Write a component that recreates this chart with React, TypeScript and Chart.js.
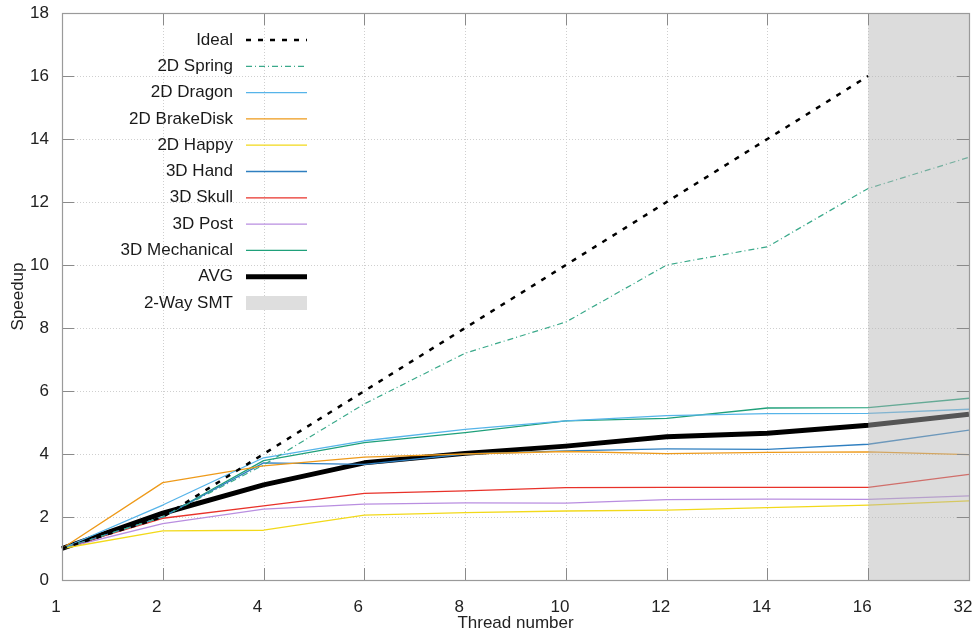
import React, { useEffect, useRef } from "react";
import { Chart, registerables } from "chart.js";

Chart.register(...registerables);

const threads = ["1", "2", "4", "6", "8", "10", "12", "14", "16", "32"];
const ideal = [1, 2, 4, 6, 8, 10, 12, 14, 16, null];
const spring2d = [1, 2.0, 3.65, 5.59, 7.2, 8.19, 10.0, 10.58, 12.43, 13.42];
const dragon2d = [1, 2.38, 3.88, 4.42, 4.78, 5.05, 5.22, 5.28, 5.29, 5.42];
const brakeDisk2d = [1, 3.09, 3.62, 3.9, 4.0, 4.08, 4.01, 4.05, 4.07, 3.98];
const happy2d = [1, 1.56, 1.58, 2.06, 2.14, 2.19, 2.22, 2.3, 2.38, 2.51];
const hand3d = [1, 2.0, 3.72, 3.67, 4.0, 4.1, 4.16, 4.15, 4.31, 4.76];
const skull3d = [1, 1.96, 2.35, 2.75, 2.83, 2.93, 2.94, 2.94, 2.94, 3.35];
const post3d = [1, 1.79, 2.25, 2.41, 2.45, 2.44, 2.55, 2.57, 2.56, 2.67];
const mechanical3d = [1, 2.0, 3.79, 4.36, 4.68, 5.05, 5.13, 5.46, 5.47, 5.77];
const avg = [1, 2.12, 3.02, 3.72, 4.02, 4.25, 4.55, 4.66, 4.91, 5.26];
const smtStart = "16";

const FONT = "'Liberation Sans', Arial, Helvetica, sans-serif";

type Series = {
  label: string;
  data: (number | null)[];
  color: string;
  width: number;
  dash: number[];
};

const series: Series[] = [
  { label: "Ideal", data: ideal, color: "#000000", width: 2.5, dash: [5, 7] },
  { label: "2D Spring", data: spring2d, color: "#3aa98a", width: 1.2, dash: [6, 3, 1, 3] },
  { label: "2D Dragon", data: dragon2d, color: "#56b4e9", width: 1.3, dash: [] },
  { label: "2D BrakeDisk", data: brakeDisk2d, color: "#ee9a1a", width: 1.3, dash: [] },
  { label: "2D Happy", data: happy2d, color: "#f2d91a", width: 1.3, dash: [] },
  { label: "3D Hand", data: hand3d, color: "#2f7fc0", width: 1.3, dash: [] },
  { label: "3D Skull", data: skull3d, color: "#e8322a", width: 1.3, dash: [] },
  { label: "3D Post", data: post3d, color: "#b98ee0", width: 1.3, dash: [] },
  { label: "3D Mechanical", data: mechanical3d, color: "#1fa07a", width: 1.3, dash: [] },
  { label: "AVG", data: avg, color: "#000000", width: 5, dash: [] },
];

const frameAndLegend = {
  id: "frameAndLegend",
  beforeDatasetsDraw(chart: any) {
    const { ctx, chartArea } = chart;
    const xs = chart.scales.x;
    const ys = chart.scales.y;
    ctx.save();
    ctx.strokeStyle = "#cfcfcf";
    ctx.lineWidth = 1;
    ctx.setLineDash([1, 2]);
    ctx.beginPath();
    xs.ticks.forEach((_t: any, i: number) => {
      if (i === 0 || i === xs.ticks.length - 1) return;
      const px = Math.round(xs.getPixelForTick(i)) + 0.5;
      ctx.moveTo(px, chartArea.top);
      ctx.lineTo(px, chartArea.bottom);
    });
    ys.ticks.forEach((_t: any, i: number) => {
      if (i === 0 || i === ys.ticks.length - 1) return;
      const py = Math.round(ys.getPixelForTick(i)) + 0.5;
      ctx.moveTo(chartArea.left, py);
      ctx.lineTo(chartArea.right, py);
    });
    ctx.stroke();
    ctx.restore();
  },
  afterDatasetsDraw(chart: any) {
    const { ctx, chartArea } = chart;
    const xs = chart.scales.x;
    const x0 = xs.getPixelForValue(threads.indexOf(smtStart));
    ctx.save();
    ctx.fillStyle = "rgba(181,181,181,0.47)";
    ctx.fillRect(x0, chartArea.top, chartArea.right - x0, chartArea.bottom - chartArea.top);
    ctx.restore();
  },
  afterDraw(chart: any) {
    const { ctx, chartArea } = chart;
    const xs = chart.scales.x;
    const ys = chart.scales.y;
    ctx.save();
    ctx.strokeStyle = "#8a8a8a";
    ctx.lineWidth = 1;
    ctx.beginPath();
    xs.ticks.forEach((_t: any, i: number) => {
      const px = Math.round(xs.getPixelForTick(i)) + 0.5;
      ctx.moveTo(px, chartArea.bottom);
      ctx.lineTo(px, chartArea.bottom - 12);
      ctx.moveTo(px, chartArea.top);
      ctx.lineTo(px, chartArea.top + 12);
    });
    ys.ticks.forEach((_t: any, i: number) => {
      const py = Math.round(ys.getPixelForTick(i)) + 0.5;
      ctx.moveTo(chartArea.left, py);
      ctx.lineTo(chartArea.left + 12, py);
      ctx.moveTo(chartArea.right, py);
      ctx.lineTo(chartArea.right - 12, py);
    });
    ctx.stroke();
    ctx.strokeStyle = "#9a9a9a";
    ctx.lineWidth = 1.2;
    ctx.strokeRect(
      Math.round(chartArea.left) + 0.5,
      Math.round(chartArea.top) + 0.5,
      Math.round(chartArea.right - chartArea.left),
      Math.round(chartArea.bottom - chartArea.top)
    );
    const textRight = 233;
    const sx0 = 246;
    const sx1 = 307;
    const rowY0 = 40;
    const rowH = 26.3;
    ctx.font = `17px ${FONT}`;
    ctx.textAlign = "right";
    ctx.textBaseline = "middle";
    series.forEach((s, i) => {
      const y = rowY0 + i * rowH;
      ctx.fillStyle = "#1a1a1a";
      ctx.fillText(s.label, textRight, y);
      ctx.strokeStyle = s.color;
      ctx.lineWidth = s.width;
      ctx.setLineDash(s.dash);
      ctx.beginPath();
      ctx.moveTo(sx0, y);
      ctx.lineTo(sx1, y);
      ctx.stroke();
      ctx.setLineDash([]);
    });
    const ySmt = rowY0 + series.length * rowH;
    ctx.fillStyle = "#1a1a1a";
    ctx.fillText("2-Way SMT", textRight, ySmt);
    ctx.fillStyle = "#dedede";
    ctx.fillRect(sx0, ySmt - 7, sx1 - sx0, 14);
    ctx.restore();
  },
};

export default function App() {
  const ref = useRef<HTMLCanvasElement | null>(null);
  useEffect(() => {
    document.body.style.margin = "0";
    const canvas = ref.current;
    if (!canvas) return;
    const chart = new Chart(canvas, {
      type: "line",
      data: {
        labels: threads,
        datasets: series.map((s) => ({
          label: s.label,
          data: s.data,
          borderColor: s.color,
          backgroundColor: s.color,
          borderWidth: s.width,
          borderDash: s.dash,
          pointRadius: 0,
          tension: 0,
          fill: false,
          spanGaps: false,
          borderJoinStyle: "round" as const,
        })),
      },
      options: {
        animation: false,
        responsive: false,
        devicePixelRatio: 1,
        layout: { padding: { top: 13, right: 5, left: 0, bottom: 0 } },
        plugins: {
          legend: { display: false },
          tooltip: { enabled: false },
        },
        scales: {
          x: {
            type: "category",
            offset: false,
            grid: { display: false, drawTicks: false },
            border: { display: false },
            ticks: {
              color: "#222",
              font: { family: FONT, size: 17 },
              padding: 17,
              labelOffset: -6,
              maxRotation: 0,
              autoSkip: false,
            },
            title: {
              display: true,
              text: "Thread number",
              color: "#222",
              font: { family: FONT, size: 17 },
              padding: { top: 0, bottom: 1 },
            },
            afterFit(scale: any) {
              scale.height = 55;
              scale.paddingLeft = 0;
              scale.paddingRight = 0;
            },
          },
          y: {
            min: 0,
            max: 18,
            grid: { display: false, drawTicks: false },
            border: { display: false },
            ticks: {
              stepSize: 2,
              color: "#222",
              font: { family: FONT, size: 17 },
              padding: 13,
            },
            title: {
              display: true,
              text: "Speedup",
              color: "#222",
              font: { family: FONT, size: 17 },
              padding: { top: 8, bottom: 0 },
            },
            afterFit(scale: any) {
              scale.width = 62;
              scale.paddingTop = 0;
              scale.paddingBottom = 0;
            },
          },
        },
      },
      plugins: [frameAndLegend],
    });
    return () => chart.destroy();
  }, []);
  return (
    <div style={{ width: 974, height: 635, background: "#fff" }}>
      <canvas ref={ref} width={974} height={635} style={{ display: "block" }} />
    </div>
  );
}
